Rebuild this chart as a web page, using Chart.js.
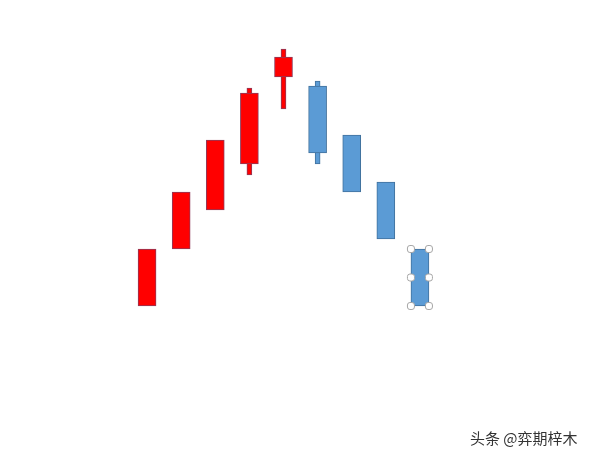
<!DOCTYPE html>
<html>
<head>
<meta charset="utf-8">
<script src="https://cdn.jsdelivr.net/npm/chart.js@4/dist/chart.umd.min.js"></script>
<style>
  html, body { margin: 0; padding: 0; background: #fff; }
  #wrap { position: relative; width: 592px; height: 460px; }
  #mark {
    position: absolute; left: 470px; top: 427px;
    font: 15px "Noto Sans CJK SC", sans-serif; color: #333;
    white-space: nowrap;
  }
</style>
</head>
<body>
<div id="wrap">
  <canvas id="chart" width="592" height="460"></canvas>
  <div id="mark">头条 @弈期梓木</div>
</div>
<script>
// candle data
const labels = ['1', '2', '3', '4', '5', '6', '7', '8', '9'];
const opens  = [154, 211, 250, 296, 383, 374, 325, 278, 211];
const closes = [211, 268, 320, 367, 403, 307, 268, 221, 154];
// wicks only on candles 4, 5 and 6
const highs  = [null, null, null, 372, 411, 379, null, null, null];
const lows   = [null, null, null, 285, 351, 296, null, null, null];

const selected = 8;

const upFill = '#FF0000', upLine = '#8E3B5A';
const downFill = '#5B9BD5', downLine = '#41719C';

const isUp = opens.map((o, i) => closes[i] >= o);
const fills = isUp.map(u => u ? upFill : downFill);
const lines = isUp.map(u => u ? upLine : downLine);

const handles = {
    id: 'handles',
    afterDatasetsDraw(chart) {
        const bar = chart.getDatasetMeta(0).data[selected];
        if (!bar) return;
        const p = bar.getProps(['x', 'y', 'base', 'width'], true);
        const left = p.x - p.width / 2, right = p.x + p.width / 2;
        const top = Math.min(p.y, p.base), bottom = Math.max(p.y, p.base);
        const mid = (top + bottom) / 2;
        const ctx = chart.ctx;
        ctx.save();
        ctx.fillStyle = '#fff';
        ctx.strokeStyle = '#A6A6A6';
        ctx.lineWidth = 1;
        [[left, top], [right, top], [left, mid], [right, mid], [left, bottom], [right, bottom]]
            .forEach(([x, y]) => {
                ctx.beginPath();
                ctx.roundRect(x - 3.5, y - 3.5, 7, 7, 2.5);
                ctx.fill();
                ctx.stroke();
            });
        ctx.restore();
    }
};

new Chart(document.getElementById('chart'), {
    type: 'bar',
    data: {
        labels: labels,
        datasets: [
            {
                label: 'body',
                data: opens.map((o, i) => [o, closes[i]]),
                backgroundColor: fills,
                borderColor: lines,
                borderWidth: 1,
                borderSkipped: false,
                barThickness: 18,
                grouped: false,
                order: 1
            },
            {
                label: 'wick',
                data: lows.map((l, i) => l === null ? null : [l, highs[i]]),
                backgroundColor: fills,
                borderColor: lines,
                borderWidth: 1,
                borderSkipped: false,
                barThickness: 5,
                grouped: false,
                order: 2
            }
        ]
    },
    options: {
        responsive: false,
        animation: false,
        layout: { padding: { left: 130, right: 155, top: 0, bottom: 0 } },
        plugins: { legend: { display: false }, tooltip: { enabled: false } },
        scales: {
            x: { display: false, offset: true },
            y: { display: false, min: 0, max: 460 }
        }
    },
    plugins: [handles]
});
</script>
</body>
</html>
